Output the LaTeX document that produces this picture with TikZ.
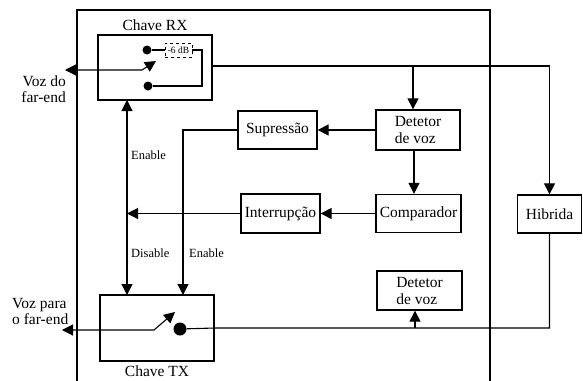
\documentclass[tikz,border=0pt]{standalone}
\usepackage{fontspec}
\setmainfont{Liberation Serif}
\usetikzlibrary{arrows.meta}
\begin{document}
\begin{tikzpicture}[x=1pt,y=-1pt,
  box/.style={draw,line width=1.3pt,inner sep=0pt,font=\fontsize{15.5}{17}\selectfont},
  wire/.style={line width=1.1pt},
  tip/.tip={Triangle[length=11pt,width=11pt]},
  arr/.style={wire,-tip},
  darr/.style={wire,tip-tip},
  lbl/.style={font=\fontsize{15.5}{16}\selectfont,inner sep=0pt},
  small/.style={font=\fontsize{12.5}{14}\selectfont,inner sep=0pt},
  dotn/.style={circle,fill,inner sep=0pt,minimum size=9pt}]
\useasboundingbox (0,0) rectangle (583,380);
% outer frame
\draw[line width=1.3pt] (77,381) -- (77,10) -- (490,10) -- (490,381);
% boxes
\node[box,minimum width=114pt,minimum height=65pt] (rx) at (155,67.5) {};
\node[box,minimum width=114pt,minimum height=66pt] (tx) at (157,328) {};
\node[box,minimum width=84pt,minimum height=40pt,align=left] (detA) at (418,130) {Detetor\\de voz};
\node[box,minimum width=79pt,minimum height=38pt] (sup) at (277.5,130) {Supressão};
\node[box,minimum width=79pt,minimum height=39pt] (int) at (280.5,213.5) {Interrupção};
\node[box,minimum width=85pt,minimum height=38pt] (comp) at (418.5,213.5) {Comparador};
\node[box,minimum width=85pt,minimum height=39pt,align=left] (detB) at (419.5,290.5) {Detetor\\de voz};
\node[box,minimum width=64pt,minimum height=38pt] (hib) at (549.5,214) {Hibrida};
% titles
\node[lbl] (trx) at (155,25) {Chave RX};
\node[lbl] (ttx) at (157,371) {Chave TX};
\node[lbl,align=right,anchor=east] (vfar) at (66,89) {Voz do\\far-end};
\node[lbl,align=left,anchor=west] (vpara) at (12,311) {Voz para\\o far-end};
\node[small,anchor=west] (en1) at (131,155) {Enable};
\node[small,anchor=west] (dis) at (131,253) {Disable};
\node[small,anchor=west] (en2) at (189,253) {Enable};
% RX switch internals
\node[dotn] (d1) at (147,50) {};
\node[dotn] (d2) at (148,86) {};
\node[draw,dashed,line width=0.8pt,minimum width=27pt,minimum height=14pt,inner sep=0pt,font=\fontsize{9.5}{10}\selectfont] (db) at (178.5,50) {-6 dB};
\coordinate (dbr) at (202,50);
\draw[wire] (d1) -- (db.west);
\draw[wire] (db.east) -- (dbr) |- (d2);
\coordinate (rxL) at (65,70);
\coordinate (rxK) at (142,70);
\coordinate (rxT) at (156,61);
\draw[darr] (rxL) -- (rxK) -- (rxT);
% TX switch internals
\node[dotn,minimum size=13pt] (d3) at (180,329) {};
\coordinate (txL) at (62,330);
\coordinate (txK) at (154,330);
\coordinate (txT) at (175,312);
\draw[darr] (txL) -- (txK) -- (txT);
% RX output to hybrid and detector
\coordinate (rxo) at (rx.east |- 0,66);
\coordinate (jA) at (413,66);
\draw[wire] (rxo) -- (jA);
\draw[arr] (jA) -| (hib.north);
\draw[arr] (jA) -- (jA |- detA.north);
% detector -> suppression, comparator
\draw[arr] (detA.west) -- (sup.east);
\coordinate (jC) at (414,150);
\draw[arr] (jC) -- (jC |- comp.north);
\draw[arr] (comp.west) -- (int.east);
% control lines
\coordinate (rxs) at (127,100);
\coordinate (txn) at (127,295);
\draw[darr] (rxs) -- (txn);
\coordinate (ji) at (127,213.5);
\draw[arr] (int.west) -- (ji);
\coordinate (txe) at (183,295);
\draw[arr] (sup.west) -| (txe);
% TX path
\coordinate (jB) at (415,328);
\draw[wire] (d3) -- (tx.east) -| (hib.south);
\draw[arr] (jB) -- (jB |- detB.south);
\end{tikzpicture}
\end{document}
